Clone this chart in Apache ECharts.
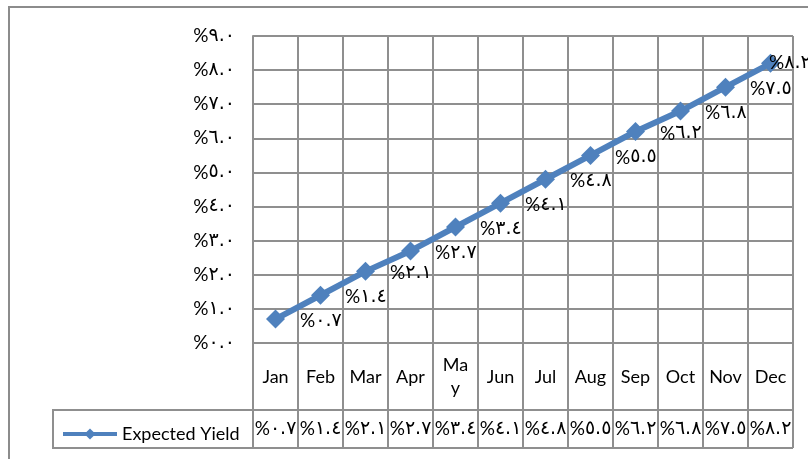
<!DOCTYPE html>
<html>
<head>
<meta charset="utf-8">
<script src="https://cdn.jsdelivr.net/npm/echarts@6/dist/echarts.min.js"></script>
<style>
  html, body { margin: 0; padding: 0; background: #fff; }
  #chart { width: 808px; height: 459px; }
</style>
</head>
<body>
<div id="chart"></div>
<script>
// Monthly expected yield (percent)
const months = ['Jan', 'Feb', 'Mar', 'Apr', 'May', 'Jun', 'Jul', 'Aug', 'Sep', 'Oct', 'Nov', 'Dec'];
const yieldPct = [0.7, 1.4, 2.1, 2.7, 3.4, 4.1, 4.8, 5.5, 6.2, 6.8, 7.5, 8.2];
const seriesName = 'Expected Yield';
const yMin = 0, yMax = 9, yStep = 1;

const FONT = "Lato, 'DejaVu Sans', sans-serif";
const FS = 18;
const GRID_COLOR = '#8f8f8f';
const LINE_COLOR = '#4f81bd';

// Percent labels: a leading "%" followed by the number in Arabic-Indic digits
const AR_DIGITS = '٠١٢٣٤٥٦٧٨٩';
const arabicNum = v => v.toFixed(1).replace(/\d/g, d => AR_DIGITS[d]);
const pctRich = v => '{p|%}{n|' + arabicNum(v) + '}';
const PCT_RICH = {
  p: { fontFamily: FONT, fontSize: 19, color: '#000' },
  n: { fontFamily: "'DejaVu Sans', sans-serif", fontSize: 19, color: '#000' }
};

const chart = echarts.init(document.getElementById('chart'), null, { renderer: 'canvas' });

const seriesData = yieldPct.map((v, i) => {
  const item = { value: v };
  if (i === yieldPct.length - 1) {
    item.label = { offset: [-26, 0] };
  }
  return item;
});

chart.setOption({
  animation: false,
  backgroundColor: '#fff',
  textStyle: { fontFamily: FONT },
  grid: { left: 253, right: 15, top: 36, bottom: 116 },
  legend: {
    data: [seriesName],
    left: 56,
    top: 420,
    itemWidth: 54,
    itemHeight: 14,
    lineStyle: { width: 4 },
    textStyle: { fontFamily: FONT, fontSize: FS, color: '#000' }
  },
  xAxis: [
    {
      type: 'category',
      data: months,
      boundaryGap: true,
      axisLine: { show: true, lineStyle: { color: GRID_COLOR, width: 2 } },
      axisTick: { show: true, interval: 0, length: 105, lineStyle: { color: GRID_COLOR, width: 2 } },
      splitLine: { show: true, interval: 0, lineStyle: { color: GRID_COLOR, width: 2 } },
      axisLabel: {
        interval: 0,
        margin: 34,
        verticalAlign: 'middle',
        lineHeight: 23,
        fontFamily: FONT,
        fontSize: FS,
        color: '#000',
        formatter: v => (v === 'May' ? 'Ma\ny' : v)
      }
    },
    {
      type: 'category',
      data: months,
      position: 'bottom',
      boundaryGap: true,
      axisLine: { show: false },
      axisTick: { show: false },
      splitLine: { show: false },
      axisLabel: {
        interval: 0,
        margin: 86,
        verticalAlign: 'middle',
        color: '#000',
        formatter: (v, i) => pctRich(yieldPct[i]),
        rich: PCT_RICH
      }
    }
  ],
  yAxis: {
    type: 'value',
    min: yMin,
    max: yMax,
    interval: yStep,
    axisLine: { show: true, lineStyle: { color: GRID_COLOR, width: 2 } },
    axisTick: { show: false },
    splitLine: { show: true, lineStyle: { color: GRID_COLOR, width: 2 } },
    axisLabel: {
      margin: 18,
      color: '#000',
      formatter: v => pctRich(v),
      rich: PCT_RICH
    }
  },
  series: [
    {
      name: seriesName,
      type: 'line',
      xAxisIndex: 0,
      data: seriesData,
      symbol: 'diamond',
      symbolSize: 19,
      itemStyle: { color: LINE_COLOR },
      lineStyle: { color: LINE_COLOR, width: 6 },
      label: {
        show: true,
        position: 'right',
        distance: 15,
        offset: [0, 2],
        color: '#000',
        formatter: p => pctRich(p.value),
        rich: PCT_RICH
      }
    }
  ],
  graphic: [
    // outer chart frame (left and top edges)
    { type: 'polyline', shape: { points: [[9, 459], [9, 7], [808, 7]] },
      style: { stroke: '#8c8c8c', lineWidth: 2, fill: null }, silent: true },
    // data table rows
    { type: 'line', shape: { x1: 53, y1: 410, x2: 793, y2: 410 },
      style: { stroke: GRID_COLOR, lineWidth: 2 }, silent: true },
    { type: 'line', shape: { x1: 53, y1: 448, x2: 793, y2: 448 },
      style: { stroke: GRID_COLOR, lineWidth: 2 }, silent: true },
    { type: 'line', shape: { x1: 53, y1: 409, x2: 53, y2: 449 },
      style: { stroke: GRID_COLOR, lineWidth: 2 }, silent: true }
  ]
});
</script>
</body>
</html>
